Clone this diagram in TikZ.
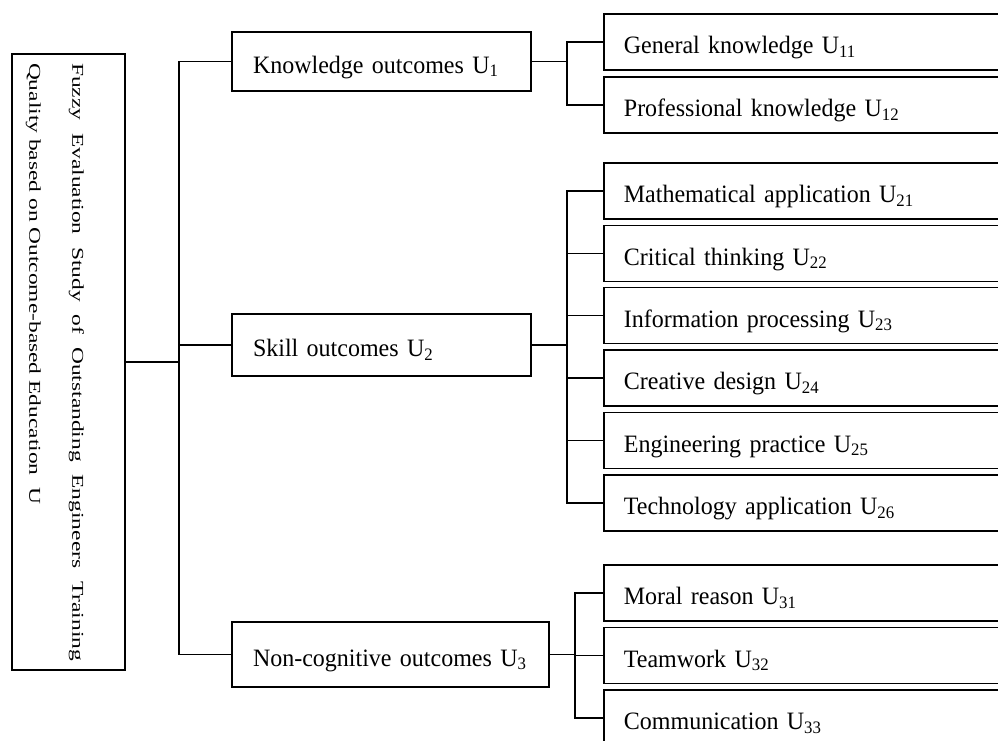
\documentclass[tikz,border=0pt]{standalone}
\usepackage{fontspec}
\setmainfont{Liberation Serif}[FakeStretch=0.96]
\newfontfamily\sidefont{Liberation Serif}[FakeStretch=1.42]
\usetikzlibrary{positioning,calc}

\begin{document}
\begin{tikzpicture}[x=1pt, y=-1pt, line width=1.8pt,
    every node/.style={font=\fontsize{25}{30}\selectfont},
    box/.style={draw, line width=1.8pt, inner ysep=0pt, align=left, text height=23pt, text depth=0pt},
    mid/.style={box, inner xsep=21pt, text width=#1},
    leaf/.style={box, anchor=west, minimum height=56pt, inner xsep=20pt, text width=420pt}]
    \useasboundingbox (0,0) rectangle (998,740);
    \clip (0,0) rectangle (998,740);

    % Goal
    \node[draw, minimum width=113pt, minimum height=616pt] (u) at (68.5,362) {};
    \node[rotate=-90, inner sep=0pt] (ut) at (55,362) {\parbox{598pt}{\sidefont\fontsize{16.5}{43}\selectfont
        Fuzzy Evaluation Study of Outstanding Engineers Training\linebreak
        Quality based on Outcome-based Education~~U}};

    % Criteria
    \node[mid=257pt, minimum height=59pt] (u1) at (381.5,61.5) {Knowledge outcomes U\textsubscript{1}};
    \node[mid=257pt, minimum height=62pt] (u2) at (381.5,345) {Skill outcomes U\textsubscript{2}};
    \node[mid=275pt, minimum height=65pt] (u3) at (390.5,654.5) {Non-cognitive outcomes U\textsubscript{3}};

    % Sub-criteria
    \node[leaf] (u11) at (603,42) {General knowledge U\textsubscript{11}};
    \node[leaf] (u12) at (603,105) {Professional knowledge U\textsubscript{12}};

    \node[leaf] (u21) at (603,191) {Mathematical application U\textsubscript{21}};
    \node[leaf] (u22) at (603,253.5) {Critical thinking U\textsubscript{22}};
    \node[leaf] (u23) at (603,315.5) {Information processing U\textsubscript{23}};
    \node[leaf] (u24) at (603,378) {Creative design U\textsubscript{24}};
    \node[leaf] (u25) at (603,440.5) {Engineering practice U\textsubscript{25}};
    \node[leaf] (u26) at (603,503) {Technology application U\textsubscript{26}};

    \node[leaf] (u31) at (603,593) {Moral reason U\textsubscript{31}};
    \node[leaf] (u32) at (603,655.5) {Teamwork U\textsubscript{32}};
    \node[leaf] (u33) at (603,718) {Communication U\textsubscript{33}};

    % Brackets
    \coordinate (j0) at (179,362);
    \coordinate (j1) at (567,61.5);
    \coordinate (j2) at (567,345);
    \coordinate (j3) at (575,654.5);

    \draw[line width=2.6pt] (u.east) -- (j0);
    \draw (u1.west) -| (j0) |- (u3.west);
    \draw (j0) |- (u2.west);

    \draw (u1.east) -- (j1);
    \draw (u11.west) -| (j1) |- (u12.west);

    \draw[line width=2.6pt] (u2.east) -- (j2);
    \draw (u21.west) -| (j2) |- (u26.west);
    \foreach \i in {22,...,25}
        \draw (j2) |- (u\i.west);

    \draw (u3.east) -- (j3);
    \draw (u31.west) -| (j3) |- (u33.west);
    \draw (j3) |- (u32.west);
\end{tikzpicture}
\end{document}
